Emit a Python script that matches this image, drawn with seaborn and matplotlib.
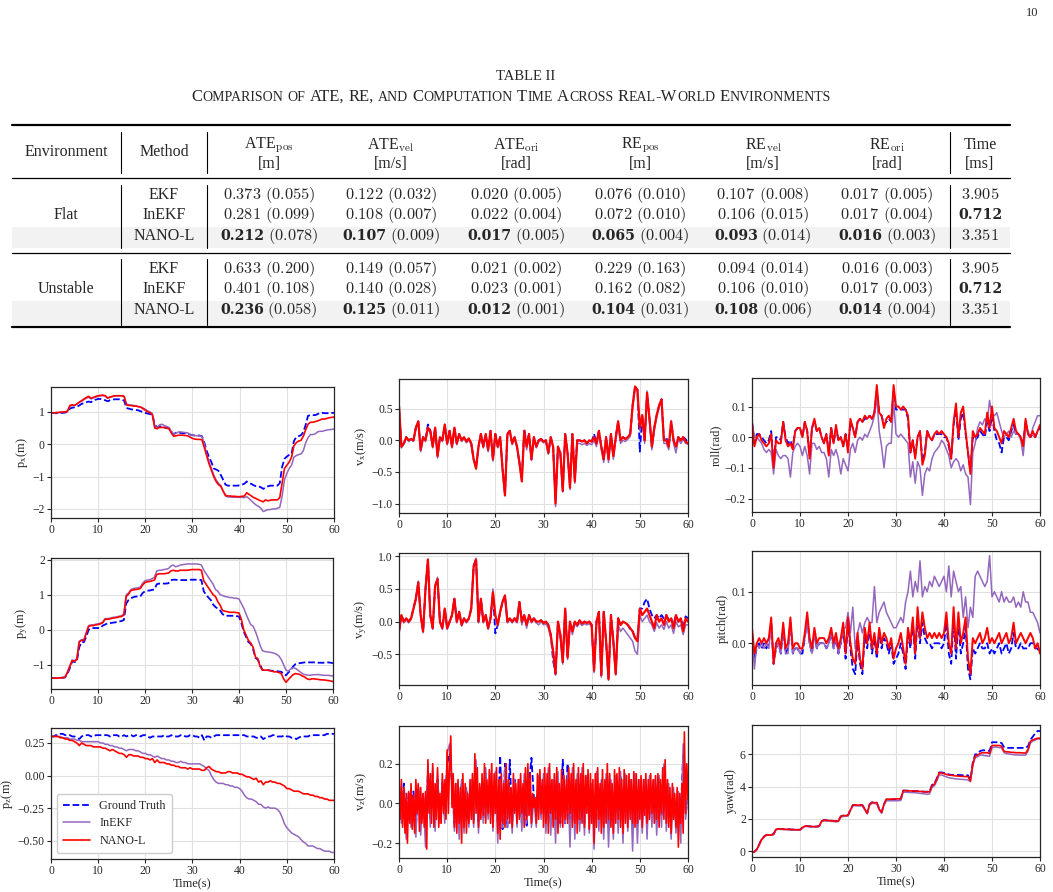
import numpy as np
import matplotlib
matplotlib.use("Agg")
import matplotlib.pyplot as plt
from matplotlib.patches import Rectangle
import seaborn as sns

# ---------------- table values ----------------
ENVS = ["Flat", "Unstable"]
METHODS = ["EKF", "InEKF", "NANO-L"]
COL_HEAD = [("ATE", "pos", "[m]"), ("ATE", "vel", "[m/s]"), ("ATE", "ori", "[rad]"),
            ("RE", "pos", "[m]"), ("RE", "vel", "[m/s]"), ("RE", "ori", "[rad]")]
FLAT_MEAN = [[0.373, 0.122, 0.020, 0.076, 0.107, 0.017],
             [0.281, 0.108, 0.022, 0.072, 0.106, 0.017],
             [0.212, 0.107, 0.017, 0.065, 0.093, 0.016]]
FLAT_STD = [[0.055, 0.032, 0.005, 0.010, 0.008, 0.005],
            [0.099, 0.007, 0.004, 0.010, 0.015, 0.004],
            [0.078, 0.009, 0.005, 0.004, 0.014, 0.003]]
UNST_MEAN = [[0.633, 0.149, 0.021, 0.229, 0.094, 0.016],
             [0.401, 0.140, 0.023, 0.162, 0.106, 0.017],
             [0.236, 0.125, 0.012, 0.104, 0.108, 0.014]]
UNST_STD = [[0.200, 0.057, 0.002, 0.163, 0.014, 0.003],
            [0.108, 0.028, 0.001, 0.082, 0.010, 0.003],
            [0.058, 0.011, 0.001, 0.031, 0.006, 0.004]]
TIME_MS = [3.905, 0.712, 3.351]

# ---------------- trajectories (0..60 s) ----------------
PX_GT = [0.97, 0.97, 0.96, 0.96, 0.97, 0.97, 0.98, 1.00, 1.10, 1.13,
         1.14, 1.16, 1.20, 1.25, 1.27, 1.30, 1.32, 1.30, 1.36, 1.38,
         1.40, 1.40, 1.38, 1.36, 1.33, 1.36, 1.38, 1.39, 1.39, 1.39,
         1.38, 1.35, 1.12, 1.10, 1.08, 1.07, 1.06, 1.05, 1.02, 1.00,
         0.97, 0.95, 0.93, 0.92, 0.60, 0.53, 0.55, 0.55, 0.52, 0.50,
         0.50, 0.40, 0.30, 0.36, 0.37, 0.35, 0.34, 0.34, 0.33, 0.30,
         0.28, 0.27, 0.27, 0.27, 0.25, 0.05, -0.20, -0.40, -0.55, -0.75,
         -0.78, -0.82, -0.95, -1.10, -1.25, -1.28, -1.28, -1.28, -1.28, -1.28,
         -1.27, -1.25, -1.22, -1.15, -1.20, -1.23, -1.27, -1.30, -1.30, -1.33,
         -1.38, -1.33, -1.30, -1.28, -1.28, -1.28, -1.28, -1.20, -0.70, -0.45,
         -0.38, -0.33, -0.30, 0.10, 0.22, 0.25, 0.28, 0.38, 0.60, 0.88,
         0.90, 0.90, 0.90, 0.93, 0.97, 0.97, 0.96, 0.96, 0.96, 0.97,
         0.97]
PX_INEKF = [0.97, 0.97, 0.97, 0.98, 0.99, 0.99, 1.00, 1.02, 1.18, 1.20,
            1.20, 1.24, 1.30, 1.33, 1.38, 1.42, 1.45, 1.40, 1.43, 1.46,
            1.48, 1.50, 1.50, 1.49, 1.42, 1.45, 1.47, 1.49, 1.50, 1.50,
            1.50, 1.48, 1.24, 1.22, 1.21, 1.20, 1.19, 1.17, 1.15, 1.12,
            1.08, 1.03, 1.00, 0.95, 0.55, 0.52, 0.60, 0.62, 0.58, 0.55,
            0.52, 0.40, 0.30, 0.34, 0.38, 0.38, 0.37, 0.36, 0.35, 0.30,
            0.28, 0.27, 0.26, 0.26, 0.25, 0.00, -0.30, -0.55, -0.75, -0.95,
            -1.10, -1.20, -1.28, -1.45, -1.60, -1.63, -1.63, -1.64, -1.64, -1.64,
            -1.64, -1.64, -1.65, -1.62, -1.68, -1.75, -1.82, -1.88, -1.92, -1.98,
            -2.08, -2.05, -2.02, -2.02, -2.00, -2.00, -1.98, -1.95, -1.60, -1.10,
            -0.90, -0.75, -0.65, -0.40, -0.35, -0.32, -0.30, -0.20, 0.05, 0.20,
            0.30, 0.30, 0.32, 0.38, 0.40, 0.40, 0.42, 0.44, 0.45, 0.46,
            0.47]
PX_NANO = [0.97, 0.97, 0.98, 0.98, 0.99, 1.00, 1.00, 1.02, 1.20, 1.22,
           1.20, 1.25, 1.30, 1.35, 1.40, 1.45, 1.48, 1.42, 1.45, 1.48,
           1.50, 1.51, 1.52, 1.50, 1.43, 1.46, 1.48, 1.50, 1.50, 1.50,
           1.50, 1.48, 1.22, 1.20, 1.20, 1.18, 1.18, 1.16, 1.15, 1.10,
           1.05, 1.00, 0.98, 0.90, 0.50, 0.48, 0.52, 0.52, 0.52, 0.50,
           0.48, 0.35, 0.25, 0.26, 0.28, 0.28, 0.28, 0.27, 0.26, 0.22,
           0.18, 0.16, 0.15, 0.15, 0.14, -0.10, -0.35, -0.60, -0.80, -1.00,
           -1.15, -1.25, -1.30, -1.45, -1.58, -1.60, -1.60, -1.61, -1.61, -1.62,
           -1.62, -1.61, -1.60, -1.50, -1.55, -1.60, -1.65, -1.68, -1.72, -1.75,
           -1.78, -1.72, -1.75, -1.73, -1.72, -1.72, -1.72, -1.65, -1.20, -0.75,
           -0.65, -0.55, -0.40, -0.05, 0.05, 0.10, 0.12, 0.25, 0.45, 0.62,
           0.68, 0.68, 0.70, 0.72, 0.75, 0.78, 0.78, 0.80, 0.82, 0.83,
           0.84]

PY_GT = [-1.38, -1.38, -1.38, -1.38, -1.37, -1.37, -1.36, -1.25, -1.10, -0.90,
         -0.92, -0.90, -0.50, -0.35, -0.35, -0.20, 0.00, 0.05, 0.05, 0.05,
         0.05, 0.05, 0.12, 0.15, 0.18, 0.19, 0.20, 0.21, 0.22, 0.24,
         0.25, 0.28, 0.75, 0.85, 0.90, 0.93, 0.95, 0.95, 0.95, 1.05,
         1.10, 1.12, 1.12, 1.14, 1.15, 1.30, 1.32, 1.32, 1.32, 1.32,
         1.33, 1.42, 1.43, 1.43, 1.42, 1.42, 1.42, 1.42, 1.42, 1.43,
         1.43, 1.43, 1.43, 1.43, 1.42, 1.10, 1.00, 0.92, 0.85, 0.72,
         0.65, 0.60, 0.55, 0.45, 0.40, 0.40, 0.40, 0.40, 0.40, 0.39,
         0.38, 0.20, -0.05, -0.20, -0.35, -0.40, -0.55, -0.80, -0.85, -1.00,
         -1.15, -1.15, -1.15, -1.16, -1.17, -1.17, -1.18, -1.19, -1.20, -1.25,
         -1.30, -1.22, -1.15, -1.05, -0.98, -0.96, -0.95, -0.94, -0.93, -0.93,
         -0.93, -0.93, -0.93, -0.94, -0.94, -0.94, -0.94, -0.93, -0.93, -0.94,
         -0.95]
PY_INEKF = [-1.38, -1.38, -1.38, -1.38, -1.37, -1.36, -1.34, -1.20, -1.02, -0.86,
            -0.88, -0.82, -0.33, -0.28, -0.28, -0.08, 0.12, 0.14, 0.14, 0.16,
            0.17, 0.19, 0.22, 0.32, 0.32, 0.33, 0.35, 0.36, 0.37, 0.39,
            0.40, 0.45, 1.00, 1.05, 1.15, 1.18, 1.19, 1.20, 1.22, 1.33,
            1.40, 1.42, 1.43, 1.46, 1.50, 1.68, 1.70, 1.70, 1.72, 1.73,
            1.75, 1.82, 1.85, 1.80, 1.82, 1.85, 1.86, 1.87, 1.88, 1.88,
            1.88, 1.88, 1.88, 1.87, 1.85, 1.70, 1.60, 1.50, 1.40, 1.30,
            1.15, 1.10, 1.00, 0.98, 0.95, 0.94, 0.92, 0.92, 0.90, 0.90,
            0.88, 0.75, 0.62, 0.45, 0.29, 0.15, 0.10, -0.05, -0.24, -0.45,
            -0.60, -0.62, -0.63, -0.64, -0.65, -0.67, -0.70, -0.75, -0.85, -1.00,
            -1.15, -1.18, -1.12, -1.08, -1.10, -1.15, -1.20, -1.25, -1.28, -1.29,
            -1.30, -1.29, -1.28, -1.28, -1.28, -1.29, -1.30, -1.30, -1.30, -1.31,
            -1.32]
PY_NANO = [-1.38, -1.38, -1.38, -1.38, -1.37, -1.37, -1.35, -1.22, -1.05, -0.88,
           -0.90, -0.85, -0.35, -0.30, -0.30, -0.10, 0.10, 0.12, 0.12, 0.14,
           0.15, 0.17, 0.20, 0.30, 0.30, 0.31, 0.33, 0.34, 0.35, 0.37,
           0.38, 0.42, 0.95, 1.02, 1.12, 1.14, 1.15, 1.16, 1.18, 1.28,
           1.35, 1.37, 1.38, 1.40, 1.42, 1.58, 1.60, 1.60, 1.60, 1.61,
           1.62, 1.68, 1.70, 1.68, 1.68, 1.70, 1.70, 1.70, 1.70, 1.71,
           1.72, 1.72, 1.72, 1.72, 1.70, 1.40, 1.30, 1.20, 1.10, 1.00,
           0.95, 0.80, 0.70, 0.55, 0.53, 0.52, 0.50, 0.50, 0.50, 0.49,
           0.48, 0.30, 0.00, -0.15, -0.30, -0.38, -0.50, -0.78, -0.82, -1.05,
           -1.15, -1.15, -1.15, -1.16, -1.18, -1.20, -1.20, -1.22, -1.25, -1.40,
           -1.50, -1.42, -1.35, -1.28, -1.25, -1.26, -1.28, -1.32, -1.35, -1.40,
           -1.42, -1.40, -1.40, -1.41, -1.42, -1.43, -1.43, -1.44, -1.45, -1.46,
           -1.48]

PZ_GT = [0.30, 0.30, 0.31, 0.31, 0.32, 0.32, 0.31, 0.31, 0.31, 0.30,
         0.30, 0.29, 0.28, 0.30, 0.31, 0.31, 0.31, 0.30, 0.30, 0.31,
         0.31, 0.31, 0.31, 0.31, 0.31, 0.30, 0.31, 0.31, 0.31, 0.30,
         0.30, 0.31, 0.30, 0.31, 0.31, 0.30, 0.31, 0.31, 0.30, 0.31,
         0.31, 0.30, 0.29, 0.30, 0.30, 0.30, 0.30, 0.30, 0.31, 0.30,
         0.30, 0.31, 0.30, 0.30, 0.30, 0.31, 0.31, 0.30, 0.30, 0.31,
         0.31, 0.30, 0.30, 0.29, 0.31, 0.27, 0.30, 0.30, 0.29, 0.30,
         0.31, 0.31, 0.31, 0.31, 0.31, 0.31, 0.31, 0.31, 0.31, 0.31,
         0.31, 0.31, 0.31, 0.30, 0.30, 0.30, 0.30, 0.29, 0.29, 0.30,
         0.28, 0.29, 0.30, 0.30, 0.31, 0.31, 0.30, 0.30, 0.30, 0.31,
         0.30, 0.30, 0.29, 0.29, 0.28, 0.29, 0.30, 0.30, 0.30, 0.30,
         0.31, 0.31, 0.31, 0.31, 0.31, 0.31, 0.31, 0.32, 0.32, 0.32,
         0.32]
PZ_INEKF = [0.30, 0.30, 0.30, 0.30, 0.30, 0.29, 0.29, 0.29, 0.28, 0.28,
            0.28, 0.27, 0.27, 0.26, 0.26, 0.26, 0.26, 0.26, 0.26, 0.26,
            0.26, 0.25, 0.25, 0.24, 0.24, 0.23, 0.23, 0.22, 0.22, 0.21,
            0.21, 0.20, 0.19, 0.20, 0.20, 0.20, 0.19, 0.19, 0.18, 0.17,
            0.17, 0.16, 0.16, 0.15, 0.14, 0.15, 0.14, 0.13, 0.13, 0.12,
            0.12, 0.11, 0.11, 0.10, 0.10, 0.11, 0.10, 0.10, 0.09, 0.09,
            0.09, 0.09, 0.09, 0.09, 0.08, 0.07, 0.05, 0.04, 0.00, -0.03,
            -0.05, -0.06, -0.06, -0.06, -0.07, -0.07, -0.08, -0.08, -0.09, -0.09,
            -0.10, -0.12, -0.15, -0.17, -0.18, -0.18, -0.19, -0.20, -0.22, -0.22,
            -0.24, -0.25, -0.24, -0.25, -0.25, -0.25, -0.26, -0.28, -0.32, -0.37,
            -0.40, -0.42, -0.44, -0.45, -0.46, -0.47, -0.49, -0.51, -0.52, -0.54,
            -0.54, -0.54, -0.55, -0.56, -0.56, -0.57, -0.58, -0.58, -0.58, -0.59,
            -0.59]
PZ_NANO = [0.30, 0.30, 0.30, 0.30, 0.29, 0.29, 0.28, 0.28, 0.27, 0.27,
           0.26, 0.25, 0.23, 0.25, 0.24, 0.23, 0.23, 0.23, 0.22, 0.22,
           0.22, 0.22, 0.21, 0.21, 0.20, 0.19, 0.20, 0.19, 0.18, 0.17,
           0.17, 0.16, 0.14, 0.16, 0.16, 0.15, 0.15, 0.15, 0.14, 0.14,
           0.13, 0.13, 0.12, 0.13, 0.10, 0.12, 0.10, 0.10, 0.10, 0.09,
           0.09, 0.08, 0.08, 0.07, 0.07, 0.06, 0.06, 0.06, 0.05, 0.06,
           0.05, 0.05, 0.05, 0.05, 0.04, 0.04, 0.06, 0.07, 0.05, 0.04,
           0.03, 0.03, 0.02, 0.02, 0.02, 0.03, 0.03, 0.02, 0.02, 0.02,
           0.01, 0.01, 0.00, -0.01, -0.01, -0.02, -0.03, -0.02, -0.05, -0.04,
           -0.07, -0.05, -0.05, -0.04, -0.05, -0.05, -0.06, -0.06, -0.07, -0.08,
           -0.10, -0.10, -0.11, -0.12, -0.12, -0.12, -0.13, -0.14, -0.14, -0.14,
           -0.15, -0.15, -0.16, -0.16, -0.17, -0.17, -0.18, -0.18, -0.19, -0.19,
           -0.19]

YAW_GT = [-0.05, -0.05, 0.10, 0.40, 0.75, 0.90, 1.00, 1.00, 1.00, 1.05,
          1.35, 1.38, 1.37, 1.36, 1.35, 1.35, 1.34, 1.33, 1.33, 1.32,
          1.32, 1.45, 1.55, 1.55, 1.53, 1.52, 1.52, 1.52, 1.55, 1.85,
          1.92, 1.90, 1.90, 1.88, 1.87, 1.85, 1.87, 2.15, 2.20, 2.20,
          2.22, 2.55, 2.85, 2.86, 2.85, 2.85, 2.85, 2.60, 2.35, 2.90,
          3.02, 3.00, 3.00, 2.60, 2.40, 2.90, 3.20, 3.20, 3.20, 3.20,
          3.20, 3.20, 3.22, 3.75, 3.75, 3.74, 3.73, 3.72, 3.72, 3.71,
          3.70, 3.69, 3.68, 3.68, 3.70, 4.10, 4.20, 4.50, 4.88, 4.88,
          4.85, 4.80, 4.75, 4.73, 4.72, 4.72, 4.72, 4.71, 4.70, 4.70,
          4.70, 4.40, 5.50, 6.00, 6.00, 6.20, 6.25, 6.25, 6.25, 6.20,
          6.75, 6.75, 6.75, 6.75, 6.70, 6.45, 6.40, 6.40, 6.40, 6.40,
          6.40, 6.40, 6.40, 6.40, 6.40, 6.50, 6.90, 7.10, 7.30, 7.45,
          7.45]
YAW_INEKF = [-0.05, -0.05, 0.08, 0.38, 0.70, 0.87, 0.98, 0.98, 0.98, 1.02,
             1.32, 1.35, 1.34, 1.33, 1.32, 1.32, 1.31, 1.30, 1.30, 1.29,
             1.29, 1.42, 1.52, 1.52, 1.50, 1.49, 1.49, 1.49, 1.52, 1.82,
             1.88, 1.86, 1.86, 1.84, 1.83, 1.81, 1.83, 2.10, 2.15, 2.15,
             2.17, 2.50, 2.80, 2.81, 2.80, 2.80, 2.80, 2.55, 2.30, 2.85,
             2.95, 2.95, 2.95, 2.55, 2.35, 2.85, 3.12, 3.12, 3.12, 3.12,
             3.12, 3.12, 3.14, 3.65, 3.65, 3.64, 3.63, 3.62, 3.62, 3.60,
             3.58, 3.56, 3.55, 3.52, 3.55, 3.95, 4.05, 4.35, 4.72, 4.72,
             4.66, 4.60, 4.55, 4.52, 4.50, 4.48, 4.47, 4.45, 4.44, 4.43,
             4.42, 4.30, 5.30, 5.80, 5.85, 5.95, 5.95, 5.92, 5.90, 5.88,
             6.40, 6.45, 6.45, 6.42, 6.40, 6.10, 6.05, 6.02, 6.00, 5.98,
             5.97, 5.96, 5.95, 5.95, 5.95, 6.20, 6.70, 6.82, 6.88, 6.95,
             6.95]
YAW_NANO = [-0.05, -0.05, 0.10, 0.40, 0.72, 0.88, 1.00, 1.00, 1.00, 1.05,
            1.35, 1.38, 1.37, 1.36, 1.35, 1.35, 1.34, 1.33, 1.33, 1.32,
            1.32, 1.45, 1.55, 1.55, 1.53, 1.52, 1.52, 1.52, 1.55, 1.85,
            1.92, 1.90, 1.90, 1.88, 1.87, 1.85, 1.87, 2.15, 2.20, 2.20,
            2.22, 2.55, 2.85, 2.86, 2.85, 2.85, 2.85, 2.60, 2.35, 2.90,
            3.02, 3.00, 3.00, 2.60, 2.40, 2.90, 3.22, 3.22, 3.22, 3.23,
            3.23, 3.24, 3.25, 3.75, 3.75, 3.74, 3.73, 3.72, 3.72, 3.71,
            3.70, 3.69, 3.68, 3.66, 3.68, 4.05, 4.15, 4.45, 4.85, 4.85,
            4.80, 4.75, 4.72, 4.70, 4.68, 4.66, 4.65, 4.64, 4.63, 4.62,
            4.62, 4.35, 5.40, 5.90, 5.95, 6.05, 6.10, 6.10, 6.10, 6.05,
            6.55, 6.55, 6.55, 6.55, 6.50, 6.20, 6.15, 6.15, 6.12, 6.12,
            6.10, 6.10, 6.10, 6.08, 6.08, 6.30, 6.80, 6.90, 6.95, 7.00,
            7.00]

VX_GT = [0.50, -0.10, -0.05, 0.05, 0.00, 0.02, 0.00, 0.20, 0.30, -0.15,
         0.05, 0.00, 0.25, 0.15, -0.10, 0.20, -0.25, 0.05, 0.00, 0.25,
         -0.05, 0.15, -0.10, 0.20, -0.05, 0.10, 0.00, 0.05, -0.02, 0.03,
         -0.05, -0.30, -0.42, -0.10, 0.10, -0.10, 0.10, -0.15, 0.15, -0.30,
         0.10, -0.10, 0.05, -0.45, -0.85, 0.10, 0.15, -0.05, 0.05, -0.10,
         -0.35, -0.60, 0.18, -0.05, 0.10, -0.30, 0.05, -0.10, 0.00, 0.02,
         -0.02, 0.00, -0.20, 0.05, -0.10, -0.95, -0.10, -0.20, -0.80, 0.10,
         -0.20, -0.70, 0.10, -0.60, 0.00, 0.00, -0.02, 0.00, -0.05, 0.00,
         -0.02, 0.10, -0.05, 0.15, -0.10, -0.30, 0.05, -0.30, 0.10, -0.25,
         0.05, 0.30, 0.00, 0.05, 0.02, 0.05, 0.10, 0.55, 0.85, 0.80,
         -0.18, 0.40, 0.00, 0.75, 0.35, -0.10, 0.20, 0.40, 0.55, 0.65,
         0.00, 0.05, -0.10, 0.30, 0.00, -0.10, 0.05, 0.00, 0.05, 0.02,
         -0.05]
VX_INEKF = [0.60, -0.12, -0.06, 0.04, -0.02, 0.01, -0.02, 0.18, 0.28, -0.18,
            0.03, -0.02, 0.18, 0.12, -0.12, 0.18, -0.28, 0.03, -0.02, 0.22,
            -0.07, 0.13, -0.12, 0.18, -0.07, 0.08, -0.02, 0.03, -0.04, 0.01,
            -0.07, -0.32, -0.43, -0.12, 0.08, -0.12, 0.08, -0.18, 0.13, -0.33,
            0.08, -0.12, 0.03, -0.48, -0.88, 0.08, 0.13, -0.07, 0.03, -0.12,
            -0.38, -0.65, 0.13, -0.15, 0.08, -0.32, 0.03, -0.12, -0.02, 0.00,
            -0.04, -0.02, -0.22, 0.03, -0.12, -1.05, -0.12, -0.22, -0.82, 0.08,
            -0.22, -0.78, 0.08, -0.68, -0.05, -0.05, -0.07, -0.05, -0.08, -0.05,
            -0.07, 0.00, -0.10, 0.12, -0.15, -0.35, 0.02, -0.35, 0.05, -0.30,
            0.00, 0.25, -0.05, 0.00, -0.02, 0.02, 0.06, 0.50, 0.82, 0.78,
            0.15, 0.36, -0.05, 0.78, 0.30, -0.15, 0.15, 0.36, 0.52, 0.62,
            -0.05, -0.05, -0.15, 0.26, -0.05, -0.20, 0.02, -0.05, 0.02, -0.05,
            -0.06]
VX_NANO = [0.55, -0.10, -0.05, 0.05, 0.00, 0.02, 0.00, 0.20, 0.30, -0.15,
           0.05, 0.00, 0.20, 0.15, -0.10, 0.20, -0.25, 0.05, 0.00, 0.25,
           -0.05, 0.15, -0.10, 0.20, -0.05, 0.10, 0.00, 0.05, -0.02, 0.03,
           -0.05, -0.30, -0.45, -0.10, 0.10, -0.10, 0.10, -0.15, 0.15, -0.30,
           0.10, -0.10, 0.05, -0.45, -0.87, 0.10, 0.15, -0.05, 0.05, -0.10,
           -0.35, -0.65, 0.15, -0.10, 0.10, -0.30, 0.05, -0.10, 0.00, 0.02,
           -0.02, 0.00, -0.20, 0.05, -0.10, -1.00, -0.10, -0.20, -0.80, 0.10,
           -0.20, -0.75, 0.10, -0.65, 0.00, 0.00, -0.02, 0.00, -0.05, 0.00,
           -0.02, 0.05, -0.05, 0.15, -0.10, -0.30, 0.05, -0.30, 0.10, -0.25,
           0.05, 0.30, 0.00, 0.05, 0.02, 0.05, 0.10, 0.55, 0.85, 0.80,
           0.20, 0.40, 0.00, 0.75, 0.35, -0.10, 0.20, 0.40, 0.55, 0.65,
           0.00, 0.00, -0.10, 0.30, 0.00, -0.10, 0.05, 0.00, 0.05, -0.02,
           -0.05]

VY_GT = [-0.15, 0.10, 0.00, 0.05, 0.00, 0.05, 0.20, 0.35, 0.60, 0.10,
         -0.15, 0.50, 0.95, 0.10, -0.10, 0.55, 0.65, 0.00, -0.10, 0.20,
         -0.10, 0.00, 0.10, 0.35, 0.00, 0.15, -0.05, 0.05, 0.00, 0.05,
         0.20, 0.85, 0.97, 0.00, 0.35, 0.00, 0.10, -0.10, 0.05, 0.45,
         -0.18, -0.05, 0.15, 0.30, 0.40, 0.00, 0.05, 0.00, 0.05, 0.00,
         0.30, 0.00, 0.10, -0.05, 0.10, 0.00, 0.05, 0.00, 0.00, 0.02,
         -0.02, 0.00, -0.05, -0.20, -0.60, -0.80, 0.00, -0.20, -0.62, 0.20,
         -0.55, 0.00, -0.15, 0.00, -0.05, 0.02, -0.03, 0.00, -0.02, 0.00,
         -0.05, -0.75, 0.00, 0.15, -0.82, 0.15, -0.30, -0.88, 0.10, -0.30,
         -0.80, 0.05, -0.05, 0.00, -0.02, -0.05, -0.12, -0.15, -0.25, -0.28,
         0.20, 0.20, 0.30, 0.35, 0.20, 0.10, 0.05, 0.10, 0.05, 0.10,
         0.05, 0.10, 0.03, 0.05, -0.05, 0.10, 0.00, 0.05, -0.10, 0.08,
         0.05]
VY_INEKF = [-0.18, 0.08, -0.02, 0.03, -0.02, 0.03, 0.18, 0.33, 0.62, 0.08,
            -0.17, 0.48, 0.93, 0.08, -0.12, 0.53, 0.68, -0.02, -0.12, 0.18,
            -0.12, -0.02, 0.08, 0.33, -0.02, 0.13, -0.07, 0.03, -0.02, 0.03,
            0.18, 0.83, 0.97, -0.02, 0.33, -0.02, 0.08, -0.12, 0.03, 0.50,
            0.08, -0.07, 0.13, 0.32, 0.38, -0.02, 0.03, -0.02, 0.03, -0.02,
            0.28, -0.05, 0.08, -0.10, 0.08, -0.02, 0.03, -0.02, -0.05, 0.00,
            -0.05, -0.03, -0.10, -0.25, -0.50, -0.82, -0.03, -0.25, -0.65, 0.18,
            -0.58, -0.03, -0.20, -0.03, -0.08, -0.02, -0.06, -0.03, -0.05, -0.03,
            -0.08, -0.78, -0.03, 0.12, -0.85, 0.12, -0.33, -0.90, 0.07, -0.33,
            -0.82, -0.05, -0.15, -0.10, -0.15, -0.20, -0.25, -0.30, -0.45, -0.50,
            0.10, 0.00, 0.05, 0.10, 0.00, -0.05, -0.15, -0.02, -0.10, -0.05,
            -0.12, 0.00, -0.10, -0.05, -0.18, 0.00, -0.08, -0.05, -0.20, -0.05,
            -0.05]
VY_NANO = [-0.15, 0.10, 0.00, 0.05, 0.00, 0.05, 0.20, 0.35, 0.60, 0.10,
           -0.15, 0.50, 0.95, 0.10, -0.10, 0.55, 0.65, 0.00, -0.10, 0.20,
           -0.10, 0.00, 0.10, 0.35, 0.00, 0.15, -0.05, 0.05, 0.00, 0.05,
           0.20, 0.85, 0.95, 0.00, 0.35, 0.00, 0.10, -0.10, 0.05, 0.45,
           0.10, -0.05, 0.15, 0.30, 0.40, 0.00, 0.05, 0.00, 0.05, 0.00,
           0.30, 0.00, 0.10, -0.05, 0.10, 0.00, 0.05, 0.00, 0.00, 0.02,
           -0.02, 0.00, -0.05, -0.20, -0.45, -0.80, 0.00, -0.20, -0.62, 0.20,
           -0.55, 0.00, -0.15, 0.00, -0.05, 0.02, -0.03, 0.00, -0.02, 0.00,
           -0.05, -0.75, 0.00, 0.15, -0.82, 0.15, -0.30, -0.88, 0.10, -0.30,
           -0.80, 0.05, -0.05, 0.00, -0.02, -0.05, -0.10, -0.15, -0.25, -0.30,
           0.20, 0.10, 0.15, 0.20, 0.10, 0.00, -0.10, 0.10, 0.00, 0.05,
           -0.05, 0.10, 0.00, 0.05, -0.10, 0.10, 0.00, 0.05, -0.15, 0.05,
           0.00]

VZ_GT = [0.10, -0.08, 0.10, -0.12, 0.05, -0.10, 0.06, -0.12, 0.08, -0.10,
         0.05, -0.12, 0.15, -0.08, 0.15, -0.10, 0.12, -0.08, 0.10, -0.06,
         0.20, 0.25, 0.10, -0.10, 0.08, -0.12, 0.10, -0.10, 0.06, -0.08,
         0.10, -0.08, 0.18, -0.10, 0.08, -0.08, 0.15, -0.06, 0.12, -0.08,
         0.10, -0.10, 0.24, -0.13, 0.20, -0.12, 0.22, -0.10, 0.12, -0.08,
         0.10, -0.10, 0.12, -0.12, 0.10, 0.23, 0.03, -0.02, 0.12, -0.06,
         0.12, -0.10, 0.15, -0.10, 0.10, -0.08, 0.12, -0.10, 0.22, -0.10,
         0.20, -0.12, 0.14, -0.10, 0.12, -0.10, 0.15, -0.10, 0.12, -0.08,
         0.10, -0.12, 0.12, -0.10, 0.10, -0.10, 0.12, -0.12, 0.10, -0.10,
         0.12, -0.10, 0.14, -0.10, 0.12, -0.08, 0.10, -0.12, 0.12, -0.10,
         0.10, -0.08, 0.10, -0.10, 0.12, -0.08, 0.10, -0.10, 0.12, -0.06,
         0.15, -0.05, 0.05, -0.08, 0.04, -0.06, 0.03, -0.05, 0.25, -0.05,
         0.03]
VZ_INEKF = [0.12, -0.10, 0.08, -0.18, 0.05, -0.12, 0.04, -0.17, 0.09, -0.16,
            0.05, -0.22, 0.20, -0.12, 0.18, -0.14, 0.15, -0.10, 0.12, -0.10,
            0.25, 0.30, 0.12, -0.14, 0.10, -0.18, 0.12, -0.15, 0.08, -0.12,
            0.12, -0.12, 0.22, -0.15, 0.08, -0.10, 0.18, -0.08, 0.15, -0.14,
            0.16, -0.20, 0.12, -0.12, 0.18, -0.12, 0.08, -0.15, 0.12, -0.12,
            0.12, -0.14, 0.15, -0.10, 0.12, -0.12, 0.02, -0.12, 0.14, -0.08,
            0.15, -0.15, 0.18, -0.16, 0.12, -0.20, 0.16, -0.12, 0.12, -0.10,
            0.15, -0.22, 0.18, -0.18, 0.15, -0.14, 0.18, -0.16, 0.14, -0.15,
            0.10, -0.23, 0.16, -0.14, 0.12, -0.18, 0.15, -0.22, 0.12, -0.18,
            0.14, -0.15, 0.16, -0.20, 0.15, -0.14, 0.12, -0.24, 0.15, -0.20,
            0.12, -0.15, 0.12, -0.18, 0.14, -0.12, 0.12, -0.16, 0.14, -0.12,
            0.20, -0.14, 0.10, -0.18, 0.08, -0.15, 0.06, -0.20, 0.30, -0.08,
            0.05]
VZ_NANO = [0.10, -0.08, 0.12, -0.12, 0.08, -0.15, 0.05, -0.20, 0.06, -0.10,
           0.10, -0.13, 0.04, -0.15, 0.12, -0.05, 0.10, -0.14, 0.08, -0.10,
           0.05, -0.12, 0.06, -0.23, 0.22, -0.05, 0.15, -0.10, 0.20, -0.12,
           0.10, -0.08, 0.18, -0.12, 0.05, -0.10, 0.15, -0.05, 0.12, -0.08,
           0.27, -0.05, 0.20, 0.34, -0.02, 0.15, -0.12, 0.10, -0.15, 0.12,
           -0.10, 0.08, -0.20, 0.15, -0.12, 0.10, -0.15, 0.05, -0.10, 0.12,
           -0.08, 0.15, -0.10, 0.25, -0.05, 0.18, -0.12, 0.10, -0.08, 0.15,
           -0.06, 0.20, -0.10, 0.12, -0.05, 0.17, -0.10, 0.20, -0.12, 0.15,
           -0.05, 0.18, -0.15, 0.12, -0.18, 0.15, -0.10, 0.10, -0.12, 0.20,
           -0.08, 0.12, -0.10, 0.08, -0.12, 0.15, -0.05, 0.10, -0.10, 0.12,
           -0.08, 0.15, -0.05, 0.10, -0.12, 0.18, -0.08, 0.20, -0.06, 0.15,
           -0.10, 0.05, -0.02, 0.03, -0.10, 0.15, -0.08, 0.17, -0.05, 0.12,
           -0.12, 0.18, -0.10, 0.15, -0.15, 0.20, -0.05, 0.12, -0.12, 0.15,
           -0.08, 0.18, -0.15, 0.10, -0.10, 0.17, -0.12, 0.14, -0.08, 0.12,
           -0.10, 0.18, -0.05, 0.15, -0.12, 0.20, -0.10, 0.12, -0.15, 0.18,
           -0.08, 0.15, -0.10, 0.20, -0.12, 0.14, -0.05, 0.17, -0.13, 0.15,
           -0.10, 0.12, -0.20, 0.15, -0.12, 0.18, -0.08, 0.10, -0.15, 0.17,
           -0.12, 0.12, -0.10, 0.20, -0.08, 0.15, -0.12, 0.10, -0.15, 0.17,
           -0.10, 0.15, -0.08, 0.18, -0.12, 0.12, -0.15, 0.17, -0.10, 0.14,
           -0.12, 0.15, -0.08, 0.12, -0.10, 0.16, -0.12, 0.15, -0.10, 0.12,
           -0.08, 0.14, -0.12, 0.12, -0.06, 0.15, -0.10, 0.12, -0.08, 0.15,
           -0.05, 0.12, -0.10, 0.14, -0.08, 0.15, -0.12, 0.12, -0.05, 0.18,
           -0.08, 0.22, -0.10, 0.12, -0.12, 0.08, -0.15, 0.10, -0.08, 0.05,
           -0.12, 0.08, -0.22, 0.05, -0.10, 0.10, -0.15, 0.36, -0.05, 0.20,
           0.02]

ROLL_GT = [0.05, -0.02, 0.01, 0.01, 0.00, -0.01, -0.02, -0.01, 0.02, -0.09,
           0.00, 0.00, -0.01, 0.05, 0.00, -0.02, -0.01, -0.03, 0.02, 0.03,
           0.03, 0.00, 0.05, 0.02, -0.06, 0.03, 0.05, 0.02, 0.03, 0.00,
           -0.02, 0.01, -0.05, 0.03, -0.02, 0.03, -0.01, 0.00, -0.03, 0.01,
           -0.04, 0.05, 0.03, 0.00, 0.05, 0.06, 0.05, 0.06, 0.06, 0.07,
           0.06, 0.08, 0.15, 0.08, 0.07, 0.04, 0.05, 0.06, 0.05, 0.15,
           0.09, 0.09, 0.09, 0.09, 0.09, 0.06, -0.05, -0.01, -0.06, 0.00,
           0.02, -0.08, -0.05, 0.02, 0.00, -0.01, 0.01, 0.01, 0.01, 0.01,
           0.00, 0.00, -0.03, -0.07, 0.04, 0.09, -0.01, 0.06, 0.08, 0.01,
           -0.05, -0.11, 0.00, -0.01, 0.00, 0.02, 0.01, 0.00, 0.05, 0.02,
           0.07, 0.02, -0.01, -0.02, -0.05, 0.00, 0.00, -0.01, 0.02, 0.04,
           0.01, 0.01, 0.00, -0.02, 0.05, 0.01, 0.00, 0.01, 0.00, 0.02,
           0.03]
ROLL_INEKF = [0.05, 0.00, 0.00, -0.01, -0.02, -0.04, -0.05, -0.04, -0.05, -0.12,
              -0.04, -0.06, -0.07, -0.06, -0.06, -0.07, -0.13, -0.05, -0.03, -0.02,
              -0.03, -0.06, -0.03, -0.06, -0.12, -0.02, -0.02, -0.04, -0.03, -0.05,
              -0.05, -0.07, -0.13, -0.04, -0.06, -0.04, -0.07, -0.12, -0.07, -0.09,
              -0.11, -0.04, -0.02, -0.05, -0.01, 0.00, -0.01, 0.01, 0.00, 0.02,
              0.04, 0.07, 0.13, 0.02, -0.03, -0.10, -0.03, -0.02, -0.02, 0.12,
              0.01, 0.00, 0.01, 0.00, -0.01, -0.02, -0.13, -0.08, -0.15, -0.08,
              -0.10, -0.19, -0.12, -0.10, -0.11, -0.07, -0.05, -0.04, -0.03, -0.01,
              -0.02, -0.04, -0.06, -0.10, -0.08, -0.07, -0.08, -0.11, -0.09, -0.12,
              -0.13, -0.22, -0.05, -0.02, 0.03, 0.05, 0.04, 0.06, 0.05, 0.12,
              0.07, 0.07, 0.08, 0.05, 0.02, 0.00, 0.01, 0.02, 0.00, 0.02,
              0.01, 0.01, -0.01, -0.06, 0.03, 0.02, 0.00, 0.03, 0.05, 0.07,
              0.07]
ROLL_NANO = [0.05, -0.03, 0.00, 0.01, -0.01, -0.02, -0.03, -0.02, 0.01, -0.10,
             -0.01, -0.02, -0.02, 0.05, -0.01, -0.03, -0.02, -0.04, 0.02, 0.03,
             0.03, 0.00, 0.05, 0.02, -0.07, 0.03, 0.06, 0.02, 0.03, 0.00,
             -0.02, 0.01, -0.06, 0.03, -0.02, 0.04, -0.01, 0.00, -0.03, 0.01,
             -0.05, 0.06, 0.03, 0.00, 0.05, 0.06, 0.05, 0.07, 0.06, 0.07,
             0.06, 0.08, 0.17, 0.08, 0.07, 0.03, 0.06, 0.07, 0.05, 0.17,
             0.10, 0.10, 0.09, 0.10, 0.09, 0.07, -0.05, -0.01, -0.07, 0.00,
             0.02, -0.09, -0.06, 0.02, 0.00, -0.01, 0.01, 0.02, 0.01, 0.02,
             0.01, 0.00, -0.02, -0.07, 0.05, 0.11, 0.00, 0.08, 0.10, 0.02,
             -0.05, -0.12, 0.02, 0.00, 0.01, 0.03, 0.02, 0.01, 0.08, 0.03,
             0.10, 0.03, 0.02, 0.00, -0.02, 0.02, 0.01, 0.00, 0.03, 0.06,
             0.02, 0.01, 0.00, -0.03, 0.06, 0.01, 0.00, 0.02, 0.00, 0.02,
             0.04]

PITCH_GT = [0.02, -0.03, -0.01, 0.00, -0.01, 0.00, -0.01, 0.00, 0.04, -0.04,
            -0.01, 0.00, -0.02, 0.03, -0.02, -0.01, 0.04, -0.02, -0.01, -0.01,
            -0.02, -0.02, 0.01, 0.05, 0.00, -0.02, 0.02, -0.01, 0.00, 0.00,
            0.00, -0.01, 0.00, 0.02, -0.01, 0.01, -0.02, 0.00, 0.03, -0.03,
            0.04, -0.01, -0.05, -0.06, 0.01, -0.04, -0.06, 0.02, -0.01, 0.03,
            -0.02, 0.01, -0.03, 0.02, -0.01, 0.01, 0.00, -0.02, 0.00, -0.04,
            -0.03, -0.02, 0.00, -0.02, -0.05, 0.02, -0.01, 0.04, -0.03, 0.05,
            0.00, 0.04, 0.01, 0.00, 0.00, -0.01, 0.00, 0.00, 0.00, -0.01,
            0.00, 0.04, -0.02, -0.04, 0.05, -0.03, 0.04, -0.02, 0.00, 0.03,
            -0.05, -0.07, -0.01, -0.02, -0.01, 0.00, -0.01, -0.01, 0.00, -0.02,
            -0.01, -0.02, -0.01, 0.00, -0.02, -0.01, 0.00, -0.02, -0.01, 0.02,
            -0.01, -0.01, 0.00, -0.01, -0.01, -0.01, 0.00, 0.00, -0.01, -0.01,
            -0.02]
PITCH_INEKF = [0.02, -0.05, 0.00, -0.01, 0.00, -0.01, 0.00, -0.01, 0.04, -0.04,
               -0.01, 0.00, -0.02, 0.03, -0.02, -0.02, 0.04, -0.02, -0.01, -0.01,
               -0.02, -0.01, 0.01, 0.04, 0.00, -0.02, 0.02, -0.01, 0.00, 0.00,
               0.00, -0.01, 0.00, 0.02, -0.01, 0.01, -0.02, 0.00, 0.03, 0.03,
               0.06, 0.02, 0.07, -0.01, 0.02, 0.04, 0.02, 0.04, 0.05, 0.04,
               0.04, 0.11, 0.04, 0.06, 0.07, 0.08, 0.06, 0.05, 0.04, 0.03,
               0.03, 0.04, 0.05, 0.04, 0.08, 0.10, 0.14, 0.09, 0.12, 0.10,
               0.16, 0.09, 0.11, 0.10, 0.12, 0.11, 0.13, 0.12, 0.11, 0.12,
               0.13, 0.10, 0.15, 0.09, 0.14, 0.12, 0.10, 0.11, 0.05, 0.09,
               0.03, 0.07, 0.05, 0.13, 0.14, 0.13, 0.12, 0.11, 0.12, 0.17,
               0.09, 0.10, 0.09, 0.08, 0.10, 0.08, 0.09, 0.08, 0.08, 0.09,
               0.07, 0.08, 0.07, 0.10, 0.08, 0.08, 0.06, 0.06, 0.05, 0.04,
               0.02]
PITCH_NANO = [0.03, -0.02, 0.00, 0.01, 0.00, 0.01, 0.00, 0.01, 0.05, -0.04,
              0.00, 0.01, -0.01, 0.04, -0.01, 0.00, 0.05, -0.01, 0.00, 0.00,
              -0.01, -0.01, 0.02, 0.06, 0.01, -0.01, 0.03, 0.00, 0.01, 0.01,
              0.01, 0.00, 0.01, 0.03, 0.00, 0.02, -0.01, 0.01, 0.04, -0.02,
              0.05, 0.00, -0.03, -0.04, 0.02, -0.03, -0.05, 0.03, 0.00, 0.04,
              -0.01, 0.02, -0.02, 0.03, 0.00, 0.02, 0.01, -0.01, 0.01, -0.03,
              -0.01, 0.00, 0.02, -0.01, -0.04, 0.03, 0.00, 0.05, -0.02, 0.07,
              0.01, 0.06, 0.03, 0.01, 0.02, 0.01, 0.02, 0.01, 0.02, 0.01,
              0.02, 0.06, 0.00, -0.02, 0.07, -0.01, 0.06, 0.00, 0.02, 0.05,
              -0.03, -0.06, 0.01, 0.00, 0.01, 0.02, 0.00, 0.01, 0.03, 0.00,
              0.01, 0.00, 0.01, 0.02, 0.00, 0.01, 0.02, 0.00, 0.01, 0.04,
              0.00, 0.01, 0.02, 0.01, 0.00, 0.01, 0.02, 0.01, -0.01, 0.00,
              -0.02]

SERIES_LABELS = ["Ground Truth", "InEKF", "NANO-L"]
SERIES_COLORS = ["blue", "#9467bd", "red"]


def tgrid(v):
    # samples are evenly spaced over the 60 s run
    return np.linspace(0, 60, len(v))


# ---------------- style ----------------
sns.set_style("whitegrid", {"axes.edgecolor": "0.15", "grid.color": "0.88",
                            "xtick.bottom": True, "ytick.left": True,
                            "axes.linewidth": 0.8})
plt.rcParams["font.family"] = ["Liberation Serif", "DejaVu Serif"]
plt.rcParams["mathtext.fontset"] = "stix"

W, H = 1053, 892
fig = plt.figure(figsize=(W / 100, H / 100), dpi=100)
rend = fig.canvas.get_renderer()

# full-figure overlay in pixel coordinates for the table
tab = fig.add_axes([0, 0, 1, 1])
tab.set_xlim(0, W)
tab.set_ylim(H, 0)
tab.axis("off")

tab.text(1038, 13, "10", ha="right", va="center", fontsize=9)
tab.text(526, 77, "TABLE II", ha="center", va="center", fontsize=10.5)


def small_caps(ax, xc, y, text, big=12.0, small=10.0):
    items = []
    for word in text.split(" "):
        runs = []
        for ch in word:
            sz = small if ch.islower() else big
            if runs and runs[-1][1] == sz:
                runs[-1][0] += ch.upper()
            else:
                runs.append([ch.upper(), sz])
        items.append(runs)
    gap = 0.26 * big * 1.389
    objs = []
    total = 0
    for wi, runs in enumerate(items):
        for s, sz in runs:
            t = ax.text(0, y, s, fontsize=sz, ha="left", va="baseline")
            w = t.get_window_extent(renderer=rend).width
            objs.append((t, w))
            total += w
        if wi < len(items) - 1:
            objs.append((None, gap))
            total += gap
    x = xc - total / 2
    for t, w in objs:
        if t is not None:
            t.set_x(x)
        x += w


small_caps(tab, 511, 101,
           "Comparison of ATE, RE, and Computation Time Across Real-World Environments")

# rules
L, R = 12, 1010
tab.plot([L, R], [125, 125], color="black", lw=1.6)
tab.plot([L, R], [178, 178], color="black", lw=0.9)
tab.plot([L, R], [253, 253], color="black", lw=0.9)
tab.plot([L, R], [327, 327], color="black", lw=1.6)
tab.add_patch(Rectangle((L, 227), R - L, 21, color="#f2f2f2", lw=0, zorder=0))
tab.add_patch(Rectangle((L, 301), R - L, 24, color="#f2f2f2", lw=0, zorder=0))
for xv in [121, 207, 950]:
    for y0, y1 in [(132, 173), (185, 248), (259, 325)]:
        tab.plot([xv, xv], [y0, y1], color="black", lw=0.8)

env_x, meth_x, time_x = 66, 164, 980
col_x = [269, 391, 516, 640, 763, 887]
fs = 11.5
nfs = 11.8


def num_cell(cx, y, mean, std=None, bold=False):
    pieces = []
    if bold:
        pieces.append(tab.text(0, y, "%.3f" % mean, fontsize=10.2, family="DejaVu Serif",
                               fontweight="bold", va="center", ha="left"))
    else:
        pieces.append(tab.text(0, y, r"$%.3f$" % mean, fontsize=nfs, va="center",
                               ha="left", math_fontfamily="cm"))
    if std is not None:
        pieces.append(tab.text(0, y, r"$(%.3f)$" % std, fontsize=nfs, va="center",
                               ha="left", math_fontfamily="cm"))
    gap = 3.5
    widths = [p.get_window_extent(renderer=rend).width for p in pieces]
    total = sum(widths) + gap * (len(pieces) - 1)
    x = cx - total / 2
    for p, w in zip(pieces, widths):
        p.set_x(x)
        x += w + gap


tab.text(env_x, 152, "Environment", ha="center", va="center", fontsize=fs)
tab.text(meth_x, 152, "Method", ha="center", va="center", fontsize=fs)
for (name, sub, unit), cx in zip(COL_HEAD, col_x):
    tab.text(cx, 145, name + r"$_\mathrm{" + sub + "}$", ha="center", va="center",
             fontsize=fs, math_fontfamily="cm")
    tab.text(cx, 164, unit, ha="center", va="center", fontsize=fs)
tab.text(time_x, 145, "Time", ha="center", va="center", fontsize=fs)
tab.text(time_x, 164, "[ms]", ha="center", va="center", fontsize=fs)

row_y = {"Flat": [195, 215, 236], "Unstable": [269, 289, 310]}
blocks = {"Flat": (FLAT_MEAN, FLAT_STD), "Unstable": (UNST_MEAN, UNST_STD)}
for env in ENVS:
    means, stds = blocks[env]
    ys = row_y[env]
    tab.text(env_x, ys[1], env, ha="center", va="center", fontsize=fs)
    for i, m in enumerate(METHODS):
        tab.text(meth_x, ys[i], m, ha="center", va="center", fontsize=fs)
        for j, cx in enumerate(col_x):
            num_cell(cx, ys[i], means[i][j], stds[i][j], bold=(m == "NANO-L"))
        num_cell(time_x, ys[i], TIME_MS[i], bold=(m == "InEKF"))


# ---------------- panels ----------------
def frac(x0, y0, x1, y1):
    return [x0 / W, 1 - y1 / H, (x1 - x0) / W, (y1 - y0) / H]


def panel(box, series, ylabel, ylim, yticks, xlabel=False, legend=False, red_lw=1.2):
    ax = fig.add_axes(frac(*box))
    styles = [dict(linestyle="--", linewidth=1.3), dict(linewidth=1.1),
              dict(linewidth=red_lw)]
    for vals, lab, col, st in zip(series, SERIES_LABELS, SERIES_COLORS, styles):
        kw = dict(st)
        if legend:
            kw["label"] = lab
        sns.lineplot(x=tgrid(vals), y=vals, ax=ax, color=col, **kw)
    ax.set_xlim(0, 60)
    ax.set_ylim(*ylim)
    ax.set_xticks(range(0, 61, 10))
    ax.set_yticks(yticks)
    ax.tick_params(labelsize=8.4, length=3, width=0.8, color="0.15", pad=1.5)
    ax.set_ylabel(ylabel, fontsize=9, labelpad=2)
    ax.set_xlabel("Time(s)" if xlabel else "", fontsize=9, labelpad=1)
    ax.grid(True, color="0.88", lw=0.8)
    for sp in ax.spines.values():
        sp.set_color("0.15")
        sp.set_linewidth(0.9)
    if legend:
        ax.legend(loc="lower left", fontsize=8.7, frameon=True, fancybox=True,
                  framealpha=1, edgecolor="0.8", handlelength=2.2,
                  labelspacing=0.45, borderpad=0.5)
    return ax


panel((51, 387, 334, 518), [PX_GT, PX_INEKF, PX_NANO], r"p$_\mathrm{x}$(m)",
      (-2.28, 1.77), [-2, -1, 0, 1])
panel((399, 379, 688, 513), [VX_GT, VX_INEKF, VX_NANO], r"v$_\mathrm{x}$(m/s)",
      (-1.15, 0.97), [-1.0, -0.5, 0.0, 0.5], red_lw=1.6)
panel((752, 378, 1040, 512), [ROLL_GT, ROLL_INEKF, ROLL_NANO], "roll(rad)",
      (-0.244, 0.193), [-0.2, -0.1, 0.0, 0.1], red_lw=1.4)
panel((51, 558, 333, 689), [PY_GT, PY_INEKF, PY_NANO], r"p$_\mathrm{y}$(m)",
      (-1.69, 2.05), [-1, 0, 1, 2])
panel((399, 553, 688, 685), [VY_GT, VY_INEKF, VY_NANO], r"v$_\mathrm{y}$(m/s)",
      (-0.97, 1.05), [-0.5, 0.0, 0.5, 1.0], red_lw=1.6)
panel((752, 551, 1040, 685), [PITCH_GT, PITCH_INEKF, PITCH_NANO], "pitch(rad)",
      (-0.081, 0.179), [0.0, 0.1], red_lw=1.4)
panel((51, 728, 334, 859), [PZ_GT, PZ_INEKF, PZ_NANO], r"p$_\mathrm{z}$(m)",
      (-0.64, 0.365), [-0.5, -0.25, 0.0, 0.25], xlabel=True, legend=True)
panel((399, 726, 688, 858), [VZ_GT, VZ_INEKF, VZ_NANO], r"v$_\mathrm{z}$(m/s)",
      (-0.275, 0.39), [-0.2, 0.0, 0.2], xlabel=True)
panel((752, 725, 1040, 857), [YAW_GT, YAW_INEKF, YAW_NANO], "yaw(rad)",
      (-0.37, 7.82), [0, 2, 4, 6], xlabel=True)

fig.savefig("out.png", dpi=100)
